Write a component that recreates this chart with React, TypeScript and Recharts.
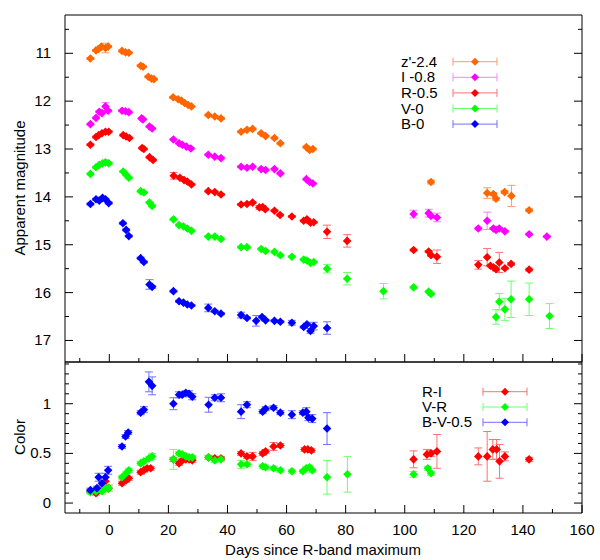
import { ErrorBar, Scatter, ScatterChart, XAxis, YAxis } from "recharts"

// Light curves (top) and colour curves (bottom), gnuplot style with
// inward mirrored ticks. Rows are [day, value, error].

type Row = [number, number, number]

const zBand: Row[] = [
  [-6.4, 11.11, 0.02], [-4.5, 10.94, 0.02], [-3.6, 10.91, 0.02], [-2.7, 10.86, 0.02],
  [-1.3, 10.89, 0.1], [-0.4, 10.86, 0.02], [4.3, 10.95, 0.02], [5.5, 10.98, 0.02],
  [6.6, 10.99, 0.02], [10.6, 11.26, 0.02], [11.4, 11.28, 0.02], [13.2, 11.49, 0.02],
  [14.3, 11.53, 0.02], [15.1, 11.54, 0.02], [21.6, 11.92, 0.02], [23.3, 11.96, 0.02],
  [24.4, 11.99, 0.02], [25.5, 12.04, 0.02], [26.7, 12.08, 0.02], [27.8, 12.11, 0.02],
  [33.5, 12.29, 0.02], [35.7, 12.32, 0.02], [37.8, 12.36, 0.02], [44.6, 12.64, 0.02],
  [46.6, 12.6, 0.02], [48.5, 12.58, 0.02], [51.4, 12.67, 0.02], [52.9, 12.73, 0.02],
  [55.9, 12.77, 0.02], [57.9, 12.88, 0.02], [66.7, 12.96, 0.02], [67.8, 13.02, 0.02],
  [68.9, 13.0, 0.02], [108.9, 13.69, 0.04], [127.9, 13.92, 0.11], [130.0, 13.94, 0.03],
  [130.9, 14.04, 0.03], [133.8, 13.9, 0.03], [136.1, 13.98, 0.22], [142.1, 14.28, 0.03],
]

const iBand: Row[] = [
  [-6.4, 12.48, 0.02], [-4.5, 12.35, 0.02], [-3.4, 12.22, 0.02], [-2.5, 12.25, 0.02],
  [-1.3, 12.11, 0.08], [-0.4, 12.2, 0.02], [4.3, 12.2, 0.02], [5.5, 12.21, 0.02],
  [6.6, 12.23, 0.02], [10.9, 12.36, 0.02], [11.4, 12.38, 0.02], [13.6, 12.53, 0.02],
  [14.5, 12.57, 0.02], [21.7, 12.8, 0.02], [23.6, 12.88, 0.02], [24.7, 12.91, 0.02],
  [26.1, 12.95, 0.02], [27.6, 12.99, 0.02], [33.5, 13.12, 0.02], [35.7, 13.16, 0.02],
  [37.8, 13.19, 0.02], [44.6, 13.37, 0.02], [46.6, 13.39, 0.02], [48.5, 13.37, 0.02],
  [51.4, 13.42, 0.02], [52.9, 13.44, 0.02], [55.9, 13.42, 0.02], [57.9, 13.51, 0.02],
  [66.7, 13.63, 0.02], [67.8, 13.69, 0.02], [68.9, 13.72, 0.02], [103.0, 14.36, 0.08],
  [108.1, 14.34, 0.08], [108.9, 14.4, 0.02], [110.9, 14.43, 0.09], [124.9, 14.66, 0.03],
  [127.9, 14.5, 0.18], [130.0, 14.66, 0.02], [130.9, 14.69, 0.02], [132.0, 14.66, 0.02],
  [133.9, 14.72, 0.02], [142.1, 14.78, 0.02], [148.1, 14.83, 0.02],
]

const rBand: Row[] = [
  [-6.4, 12.91, 0.02], [-4.5, 12.75, 0.02], [-3.6, 12.71, 0.02], [-2.5, 12.67, 0.02],
  [-1.3, 12.64, 0.02], [-0.2, 12.64, 0.02], [4.7, 12.71, 0.02], [5.7, 12.74, 0.02],
  [6.8, 12.77, 0.02], [11.1, 12.98, 0.02], [11.7, 13.0, 0.02], [13.6, 13.17, 0.02],
  [14.8, 13.23, 0.02], [21.8, 13.56, 0.07], [23.9, 13.6, 0.02], [25.3, 13.65, 0.02],
  [26.4, 13.68, 0.02], [27.8, 13.74, 0.02], [33.5, 13.88, 0.02], [35.7, 13.9, 0.02],
  [37.8, 13.95, 0.02], [44.6, 14.16, 0.02], [46.6, 14.15, 0.02], [48.5, 14.12, 0.02],
  [50.8, 14.22, 0.04], [51.9, 14.21, 0.02], [52.8, 14.26, 0.02], [55.9, 14.29, 0.02],
  [57.8, 14.38, 0.02], [61.8, 14.41, 0.02], [65.8, 14.5, 0.02], [66.9, 14.47, 0.02],
  [68.1, 14.54, 0.02], [69.2, 14.53, 0.02], [73.7, 14.73, 0.14], [80.5, 14.92, 0.13],
  [103.0, 15.11, 0.02], [108.1, 15.14, 0.02], [108.9, 15.22, 0.02], [110.9, 15.25, 0.14],
  [124.9, 15.42, 0.09], [127.9, 15.26, 0.18], [129.0, 15.44, 0.02], [130.0, 15.47, 0.02],
  [130.9, 15.51, 0.04], [132.0, 15.37, 0.21], [133.9, 15.49, 0.02], [136.0, 15.4, 0.03],
  [142.1, 15.52, 0.03],
]

const vBand: Row[] = [
  [-6.4, 13.52, 0.02], [-4.5, 13.38, 0.02], [-3.4, 13.33, 0.02], [-2.3, 13.3, 0.02],
  [-1.3, 13.28, 0.02], [-0.2, 13.3, 0.02], [4.7, 13.47, 0.02], [5.7, 13.54, 0.02],
  [6.6, 13.6, 0.02], [10.6, 13.88, 0.02], [11.7, 13.91, 0.02], [13.6, 14.12, 0.02],
  [14.5, 14.19, 0.02], [21.7, 14.47, 0.02], [23.6, 14.59, 0.02], [25.1, 14.62, 0.02],
  [26.4, 14.66, 0.02], [27.8, 14.71, 0.02], [33.5, 14.83, 0.02], [35.7, 14.83, 0.02],
  [37.8, 14.88, 0.02], [44.6, 15.05, 0.02], [46.6, 15.05, 0.02], [51.4, 15.09, 0.02],
  [52.9, 15.13, 0.02], [55.9, 15.15, 0.02], [57.9, 15.22, 0.02], [61.8, 15.25, 0.02],
  [65.8, 15.31, 0.02], [66.9, 15.33, 0.02], [68.1, 15.38, 0.02], [69.2, 15.36, 0.02],
  [73.7, 15.5, 0.09], [80.5, 15.71, 0.13], [92.8, 15.97, 0.16], [103.0, 15.89, 0.02],
  [108.1, 15.98, 0.02], [108.9, 16.03, 0.02], [130.9, 16.51, 0.15], [132.0, 16.19, 0.17],
  [133.9, 16.35, 0.23], [136.0, 16.14, 0.38], [142.1, 16.14, 0.34], [149.0, 16.49, 0.26],
]

const bBand: Row[] = [
  [-6.4, 14.15, 0.02], [-4.5, 14.05, 0.02], [-3.4, 14.08, 0.02], [-2.3, 14.02, 0.02],
  [-1.3, 14.05, 0.02], [-0.2, 14.13, 0.02], [4.6, 14.55, 0.02], [5.7, 14.69, 0.02],
  [6.6, 14.82, 0.02], [10.6, 15.28, 0.02], [11.7, 15.36, 0.02], [13.6, 15.83, 0.1],
  [14.5, 15.88, 0.03], [21.7, 15.97, 0.02], [23.6, 16.18, 0.02], [25.1, 16.21, 0.02],
  [26.4, 16.25, 0.02], [27.8, 16.27, 0.02], [33.5, 16.32, 0.08], [35.7, 16.39, 0.02],
  [37.8, 16.44, 0.02], [44.6, 16.47, 0.06], [46.6, 16.53, 0.02], [49.7, 16.59, 0.11],
  [51.7, 16.51, 0.02], [52.9, 16.58, 0.02], [55.9, 16.59, 0.02], [57.9, 16.61, 0.02],
  [61.8, 16.63, 0.05], [65.8, 16.72, 0.02], [66.9, 16.66, 0.02], [68.1, 16.8, 0.05],
  [69.2, 16.7, 0.08], [73.7, 16.74, 0.13],
]

const riColor: Row[] = [
  [-6.4, 0.12, 0.02], [-4.5, 0.1, 0.02], [-2.5, 0.13, 0.02], [-1.3, 0.22, 0.04],
  [-0.2, 0.15, 0.03], [4.3, 0.2, 0.02], [5.7, 0.23, 0.02], [6.6, 0.25, 0.02],
  [10.6, 0.31, 0.02], [11.7, 0.33, 0.02], [12.8, 0.35, 0.02], [14.0, 0.35, 0.02],
  [21.7, 0.44, 0.02], [23.6, 0.4, 0.02], [24.7, 0.43, 0.02], [25.9, 0.44, 0.02],
  [27.0, 0.44, 0.02], [28.1, 0.43, 0.02], [33.6, 0.46, 0.02], [35.7, 0.45, 0.02],
  [37.8, 0.45, 0.02], [44.6, 0.5, 0.02], [46.6, 0.47, 0.02], [48.5, 0.47, 0.04],
  [51.9, 0.5, 0.02], [52.9, 0.52, 0.02], [55.6, 0.57, 0.04], [57.9, 0.58, 0.02],
  [66.1, 0.54, 0.02], [67.2, 0.54, 0.02], [68.4, 0.53, 0.02], [103.0, 0.44, 0.085],
  [107.5, 0.49, 0.05], [108.9, 0.5, 0.03], [110.9, 0.52, 0.17], [124.9, 0.47, 0.085],
  [127.9, 0.47, 0.25], [129.8, 0.54, 0.1], [131.1, 0.54, 0.1], [132.1, 0.42, 0.17],
  [133.9, 0.47, 0.045], [142.1, 0.44, 0.02],
]

const vrColor: Row[] = [
  [-6.4, 0.11, 0.02], [-4.5, 0.12, 0.02], [-2.5, 0.12, 0.03], [-1.3, 0.15, 0.04],
  [-0.2, 0.15, 0.03], [4.3, 0.26, 0.02], [5.7, 0.3, 0.02], [6.6, 0.33, 0.02],
  [10.6, 0.4, 0.02], [11.7, 0.42, 0.02], [13.4, 0.45, 0.02], [14.5, 0.47, 0.03],
  [21.7, 0.44, 0.1], [23.6, 0.5, 0.02], [24.7, 0.49, 0.02], [25.9, 0.47, 0.02],
  [27.0, 0.46, 0.02], [28.1, 0.46, 0.02], [33.6, 0.46, 0.02], [35.7, 0.43, 0.02],
  [37.8, 0.44, 0.02], [44.6, 0.39, 0.04], [46.6, 0.39, 0.02], [51.9, 0.37, 0.02],
  [52.9, 0.36, 0.02], [55.6, 0.35, 0.02], [57.9, 0.33, 0.02], [61.8, 0.32, 0.02],
  [65.5, 0.32, 0.02], [66.7, 0.35, 0.02], [67.8, 0.36, 0.02], [68.7, 0.33, 0.02],
  [73.7, 0.26, 0.17], [80.6, 0.29, 0.18], [103.0, 0.29, 0.03], [107.8, 0.35, 0.02],
  [108.9, 0.3, 0.02],
]

const bvColor: Row[] = [
  [-6.4, 0.13, 0.02], [-4.2, 0.15, 0.02], [-3.6, 0.26, 0.04], [-2.5, 0.2, 0.02],
  [-1.3, 0.26, 0.04], [-0.4, 0.33, 0.04], [4.3, 0.57, 0.02], [5.5, 0.67, 0.02],
  [6.4, 0.71, 0.02], [10.6, 0.91, 0.02], [11.7, 0.94, 0.03], [13.4, 1.22, 0.1],
  [14.5, 1.18, 0.09], [21.7, 1.0, 0.06], [23.6, 1.09, 0.03], [24.7, 1.09, 0.02],
  [25.9, 1.11, 0.02], [27.0, 1.1, 0.03], [28.1, 1.07, 0.03], [33.6, 0.99, 0.075],
  [35.7, 1.06, 0.03], [37.8, 1.06, 0.04], [44.6, 0.92, 0.07], [46.6, 0.99, 0.03],
  [51.9, 0.92, 0.02], [52.9, 0.95, 0.02], [55.6, 0.96, 0.02], [57.9, 0.91, 0.02],
  [61.8, 0.89, 0.04], [65.5, 0.91, 0.02], [66.7, 0.92, 0.04], [67.4, 0.86, 0.03],
  [68.7, 0.85, 0.04], [73.7, 0.75, 0.16],
]

const DAY_TICKS = [-10, 0, 10, 20, 30, 40, 50, 60, 70, 80, 90, 100, 110, 120, 130, 140, 150, 160]
const MAG_TICKS = [10.5, 11, 11.5, 12, 12.5, 13, 13.5, 14, 14.5, 15, 15.5, 16, 16.5, 17]
const COLOR_TICKS = [0, 0.1, 0.2, 0.3, 0.4, 0.5, 0.6, 0.7, 0.8, 0.9, 1, 1.1, 1.2, 1.3, 1.4]

const MAG_SERIES = [
  { name: "z'-2.4", rows: zBand, color: "#ff6600", err: "#ff9a66" },
  { name: "I -0.8", rows: iBand, color: "#ff00ff", err: "#ff80ff" },
  { name: "R-0.5", rows: rBand, color: "#ff0000", err: "#ff7070" },
  { name: "V-0", rows: vBand, color: "#00ff00", err: "#70ff70" },
  { name: "B-0", rows: bBand, color: "#0000ff", err: "#7070ff" },
]

const COLOR_SERIES = [
  { name: "R-I", rows: riColor, color: "#ff0000", err: "#ff7070" },
  { name: "V-R", rows: vrColor, color: "#00ff00", err: "#70ff70" },
  { name: "B-V-0.5", rows: bvColor, color: "#0000ff", err: "#7070ff" },
]

const FONT = '"Liberation Sans", Arial, sans-serif'
const toPoints = (rows: Row[]) => rows.map(([x, y, e]) => ({ x, y, e }))

const diamond = (color: string) => (props: any) => {
  const { cx, cy } = props
  if (cx == null || cy == null) return <g />
  const r = 4.3
  return (
    <polygon
      points={`${cx},${cy - r} ${cx + r},${cy} ${cx},${cy + r} ${cx - r},${cy}`}
      fill={color}
    />
  )
}

type Side = "bottom" | "top" | "left" | "right"

function makeTick(side: Side, isMajor: (v: number) => boolean, label?: (v: number) => string) {
  return (props: any) => {
    const { x, y, payload } = props
    const v = payload.value as number
    const len = isMajor(v) ? 8 : 4
    let line
    if (side === "bottom") line = <line x1={x} x2={x} y1={y} y2={y - len} stroke="#000" />
    else if (side === "top") line = <line x1={x} x2={x} y1={y} y2={y + len} stroke="#000" />
    else if (side === "left") line = <line x1={x} x2={x + len} y1={y} y2={y} stroke="#000" />
    else line = <line x1={x} x2={x - len} y1={y} y2={y} stroke="#000" />
    const text =
      label && isMajor(v) ? (
        side === "bottom" ? (
          <text x={x} y={y + 22} textAnchor="middle" fontSize={15} fontFamily={FONT} fill="#000">
            {label(v)}
          </text>
        ) : (
          <text x={x - 14} y={y + 5} textAnchor="end" fontSize={15} fontFamily={FONT} fill="#000">
            {label(v)}
          </text>
        )
      ) : null
    return (
      <g>
        {line}
        {text}
      </g>
    )
  }
}

const dayMajor = (v: number) => v % 20 === 0
const magMajor = (v: number) => Number.isInteger(v)
const colorMajor = (v: number) => Math.abs(v * 2 - Math.round(v * 2)) < 1e-6
const axisLine = { stroke: "#000", strokeWidth: 1 }

function Frame({
  yDomain,
  yTicks,
  yMajor,
  reversed,
  showDays,
}: {
  yDomain: [number, number]
  yTicks: number[]
  yMajor: (v: number) => boolean
  reversed: boolean
  showDays: boolean
}) {
  return [
    <XAxis
      key="xb"
      xAxisId="b"
      type="number"
      dataKey="x"
      domain={[-15, 160]}
      allowDataOverflow
      ticks={DAY_TICKS}
      interval={0}
      height={1}
      tickSize={0}
      tickMargin={0}
      tickLine={false}
      axisLine={axisLine}
      tick={makeTick("bottom", dayMajor, showDays ? (v) => String(v) : undefined)}
    />,
    <XAxis
      key="xt"
      xAxisId="t"
      orientation="top"
      type="number"
      domain={[-15, 160]}
      allowDataOverflow
      ticks={DAY_TICKS}
      interval={0}
      height={1}
      tickSize={0}
      tickMargin={0}
      tickLine={false}
      axisLine={axisLine}
      tick={makeTick("top", dayMajor)}
    />,
    <YAxis
      key="yl"
      yAxisId="l"
      type="number"
      dataKey="y"
      domain={yDomain}
      reversed={reversed}
      allowDataOverflow
      ticks={yTicks}
      interval={0}
      width={1}
      tickSize={0}
      tickMargin={0}
      tickLine={false}
      axisLine={axisLine}
      tick={makeTick("left", yMajor, (v) => String(v))}
    />,
    <YAxis
      key="yr"
      yAxisId="r"
      orientation="right"
      type="number"
      domain={yDomain}
      reversed={reversed}
      allowDataOverflow
      ticks={yTicks}
      interval={0}
      width={1}
      tickSize={0}
      tickMargin={0}
      tickLine={false}
      axisLine={axisLine}
      tick={makeTick("right", yMajor)}
    />,
  ]
}

function seriesNodes(list: typeof MAG_SERIES) {
  return list.map((s) => (
    <Scatter
      key={s.name}
      name={s.name}
      data={toPoints(s.rows)}
      xAxisId="b"
      yAxisId="l"
      dataKey="y"
      shape={diamond(s.color)}
      isAnimationActive={false}
    >
      <ErrorBar dataKey="e" direction="y" width={4} stroke={s.err} strokeWidth={1} />
    </Scatter>
  ))
}

function KeyEntry({
  x,
  lineX,
  y,
  name,
  color,
  err,
}: {
  x: number
  lineX: number
  y: number
  name: string
  color: string
  err: string
}) {
  const x1 = lineX
  const x2 = lineX + 44
  const cx = (x1 + x2) / 2
  return (
    <g>
      <text x={x} y={y + 5} fontSize={15} fontFamily={FONT} fill="#000">
        {name}
      </text>
      <line x1={x1} x2={x2} y1={y} y2={y} stroke={err} />
      <line x1={x1} x2={x1} y1={y - 4} y2={y + 4} stroke={err} />
      <line x1={x2} x2={x2} y1={y - 4} y2={y + 4} stroke={err} />
      <polygon points={`${cx},${y - 4} ${cx + 4},${y} ${cx},${y + 4} ${cx - 4},${y}`} fill={color} />
    </g>
  )
}

export default function App() {
  return (
    <div
      style={{
        position: "absolute",
        left: 0,
        top: 0,
        width: 600,
        height: 560,
        background: "#fff",
        fontFamily: FONT,
      }}
    >
      <div style={{ position: "absolute", left: 0, top: 0 }}>
        <ScatterChart width={600} height={370} margin={{ top: 14, right: 17, bottom: 7, left: 64 }}>
          {Frame({ yDomain: [10.2, 17.45], yTicks: MAG_TICKS, yMajor: magMajor, reversed: true, showDays: false })}
          {seriesNodes(MAG_SERIES)}
        </ScatterChart>
      </div>
      <div style={{ position: "absolute", left: 0, top: 340 }}>
        <ScatterChart width={600} height={220} margin={{ top: 21, right: 17, bottom: 46, left: 64 }}>
          {Frame({ yDomain: [-0.1, 1.42], yTicks: COLOR_TICKS, yMajor: colorMajor, reversed: false, showDays: true })}
          {seriesNodes(COLOR_SERIES)}
        </ScatterChart>
      </div>
      <svg
        width={600}
        height={560}
        style={{ position: "absolute", left: 0, top: 0, pointerEvents: "none" }}
      >
        {MAG_SERIES.map((s, i) => (
          <KeyEntry
            key={s.name}
            x={401}
            lineX={453}
            y={61.7 + i * 15.6}
            name={s.name}
            color={s.color}
            err={s.err}
          />
        ))}
        {COLOR_SERIES.map((s, i) => (
          <KeyEntry
            key={s.name}
            x={422}
            lineX={483}
            y={391.7 + i * 15.3}
            name={s.name}
            color={s.color}
            err={s.err}
          />
        ))}
        <text
          x={0}
          y={0}
          transform="translate(25,188) rotate(-90)"
          textAnchor="middle"
          fontSize={15}
          fontFamily={FONT}
          fill="#000"
        >
          Apparent magnitude
        </text>
        <text
          x={0}
          y={0}
          transform="translate(25,437) rotate(-90)"
          textAnchor="middle"
          fontSize={15}
          fontFamily={FONT}
          fill="#000"
        >
          Color
        </text>
        <text x={323} y={555} textAnchor="middle" fontSize={15} fontFamily={FONT} fill="#000">
          Days since R-band maximum
        </text>
      </svg>
    </div>
  )
}
